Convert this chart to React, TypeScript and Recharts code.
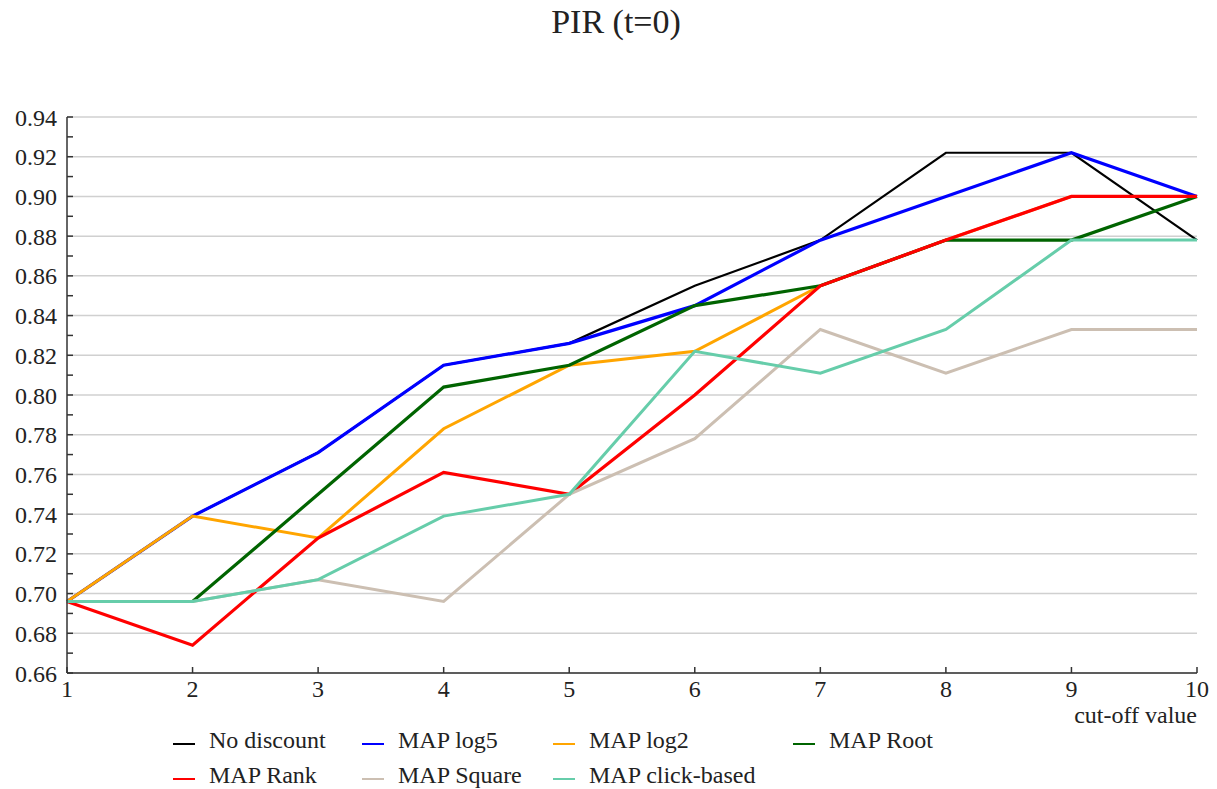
import React from 'react';
import {
  LineChart,
  Line,
  XAxis,
  YAxis,
  CartesianGrid,
  Label,
} from 'recharts';

const cutoffs = [1, 2, 3, 4, 5, 6, 7, 8, 9, 10];

const noDiscount = [0.696, 0.739, 0.771, 0.815, 0.826, 0.855, 0.878, 0.922, 0.922, 0.878];
const mapLog5 = [0.696, 0.739, 0.771, 0.815, 0.826, 0.845, 0.878, 0.9, 0.922, 0.9];
const mapLog2 = [0.696, 0.739, 0.728, 0.783, 0.815, 0.822, 0.855, 0.878, 0.9, 0.9];
const mapRoot = [0.696, 0.696, 0.75, 0.804, 0.815, 0.845, 0.855, 0.878, 0.878, 0.9];
const mapRank = [0.696, 0.674, 0.728, 0.761, 0.75, 0.8, 0.855, 0.878, 0.9, 0.9];
const mapSquare = [0.696, 0.696, 0.707, 0.696, 0.75, 0.778, 0.833, 0.811, 0.833, 0.833];
const mapClick = [0.696, 0.696, 0.707, 0.739, 0.75, 0.822, 0.811, 0.833, 0.878, 0.878];

const yTicks = [
  0.66, 0.67, 0.68, 0.69, 0.7, 0.71, 0.72, 0.73, 0.74, 0.75, 0.76, 0.77, 0.78, 0.79, 0.8,
  0.81, 0.82, 0.83, 0.84, 0.85, 0.86, 0.87, 0.88, 0.89, 0.9, 0.91, 0.92, 0.93, 0.94,
];
const yGrid = [0.66, 0.68, 0.7, 0.72, 0.74, 0.76, 0.78, 0.8, 0.82, 0.84, 0.86, 0.88, 0.9, 0.92, 0.94];

const series = [
  { key: 'none', name: 'No discount', values: noDiscount, color: '#000000', width: 2.2 },
  { key: 'log5', name: 'MAP log5', values: mapLog5, color: '#0000ff', width: 3.2 },
  { key: 'log2', name: 'MAP log2', values: mapLog2, color: '#ffa500', width: 3 },
  { key: 'root', name: 'MAP Root', values: mapRoot, color: '#006400', width: 3.2 },
  { key: 'rank', name: 'MAP Rank', values: mapRank, color: '#ff0000', width: 3.2 },
  { key: 'square', name: 'MAP Square', values: mapSquare, color: '#ccbfb2', width: 3 },
  { key: 'click', name: 'MAP click-based', values: mapClick, color: '#66cdaa', width: 3 },
];

const rows = cutoffs.map((c, i) => {
  const row: Record<string, number> = { cutoff: c };
  series.forEach((s) => {
    row[s.key] = s.values[i];
  });
  return row;
});

const FONT = '"Liberation Serif", serif';
const TEXT = '#222';
const AXIS = '#333';

// legend layout: column line start, row baseline, row line y
const legendCols = [173, 362, 553, 793];
const legendBaselines = [748, 783];
const legendLineYs = [744, 779];

function YTick(props: any) {
  const { x, y, payload } = props;
  const v = payload.value as number;
  const major = Math.round(v * 100) % 2 === 0;
  return (
    <g>
      <line x1={x} x2={x + 6} y1={y} y2={y} stroke={AXIS} strokeWidth={1.5} />
      {major && (
        <text x={x - 10} y={y} dy="0.36em" textAnchor="end" fill={TEXT} fontSize={24} fontFamily={FONT}>
          {v.toFixed(2)}
        </text>
      )}
    </g>
  );
}

function XTick(props: any) {
  const { x, y, payload } = props;
  return (
    <g>
      <line x1={x} x2={x} y1={y} y2={y - 6} stroke={AXIS} strokeWidth={1.5} />
      <text x={x} y={y + 24} textAnchor="middle" fill={TEXT} fontSize={24} fontFamily={FONT}>
        {payload.value}
      </text>
    </g>
  );
}

export default function App() {
  return (
    <div
      style={{
        position: 'absolute',
        left: 0,
        top: 0,
        width: 1217,
        height: 789,
        background: '#fff',
        fontFamily: FONT,
        color: TEXT,
        overflow: 'hidden',
      }}
    >
      <div
        style={{
          position: 'absolute',
          left: 0,
          top: 5,
          width: 1232,
          textAlign: 'center',
          fontSize: 34,
          lineHeight: '34px',
        }}
      >
        PIR (t=0)
      </div>
      <LineChart
        width={1217}
        height={789}
        data={rows}
        margin={{ top: 117, right: 20, left: 0, bottom: 76 }}
      >
        <CartesianGrid
          vertical={false}
          stroke="#d0d0d0"
          strokeWidth={1.5}
          horizontalCoordinatesGenerator={({ offset }: any) =>
            yGrid.map((v) => offset.top + ((0.94 - v) / 0.28) * offset.height)
          }
        />
        <XAxis
          dataKey="cutoff"
          type="number"
          domain={[1, 10]}
          ticks={cutoffs}
          interval={0}
          height={40}
          tickSize={0}
          tickMargin={0}
          tickLine={false}
          axisLine={{ stroke: AXIS, strokeWidth: 1.5 }}
          tick={<XTick />}
        >
          <Label
            content={({ viewBox }: any) => (
              <text
                x={viewBox.x + viewBox.width}
                y={viewBox.y + 50}
                textAnchor="end"
                fill={TEXT}
                fontSize={24}
                fontFamily={FONT}
              >
                cut-off value
              </text>
            )}
          />
        </XAxis>
        <YAxis
          type="number"
          domain={[0.66, 0.94]}
          ticks={yTicks}
          interval={0}
          width={67}
          tickSize={0}
          tickMargin={0}
          tickLine={false}
          axisLine={{ stroke: AXIS, strokeWidth: 1.5 }}
          tick={<YTick />}
        />
        {series.map((s) => (
          <Line
            key={s.key}
            type="linear"
            dataKey={s.key}
            name={s.name}
            stroke={s.color}
            strokeWidth={s.width}
            dot={false}
            activeDot={false}
            isAnimationActive={false}
          />
        ))}
      </LineChart>
      {series.map((s, i) => {
        const left = legendCols[i % 4];
        const r = Math.floor(i / 4);
        const top = legendBaselines[r] - 20;
        return (
          <div
            key={s.key}
            style={{
              position: 'absolute',
              left,
              top,
              height: 24,
              whiteSpace: 'nowrap',
            }}
          >
            <span
              style={{
                position: 'absolute',
                left: 0,
                top: legendLineYs[r] - top - 1.25,
                width: 22,
                height: 2.5,
                background: s.color,
              }}
            />
            <span style={{ position: 'absolute', left: 36, top: 0, fontSize: 24, lineHeight: '24px' }}>
              {s.name}
            </span>
          </div>
        );
      })}
    </div>
  );
}
